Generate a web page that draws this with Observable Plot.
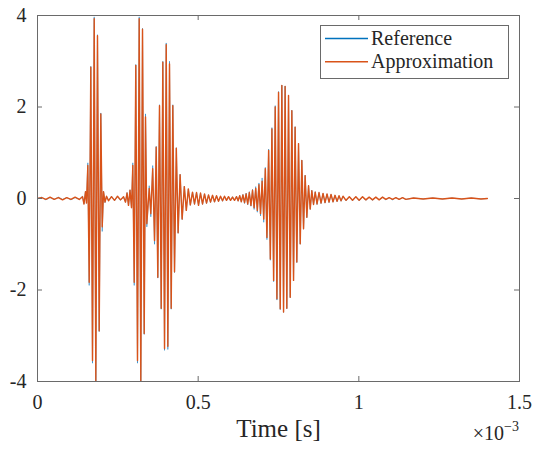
<!DOCTYPE html>
<html>
<head>
<meta charset="utf-8">
<script src="https://cdn.jsdelivr.net/npm/d3@7"></script>
<script src="https://cdn.jsdelivr.net/npm/@observablehq/plot@0.6"></script>
<style>
  html, body { margin: 0; padding: 0; background: #fff; }
</style>
</head>
<body>
<script>
// Time in units of 1e-3 s (axis shows ×10^-3)
const timeMs = [
  0, 0.013, 0.026, 0.039, 0.052, 0.065, 0.078, 0.091, 0.104, 0.117, 0.130, 0.140,
  0.1447, 0.1494, 0.1525,
  0.1566, 0.1609, 0.1659, 0.1712, 0.1765, 0.1815, 0.1867, 0.1920, 0.1970, 0.2014,
  0.2054, 0.2101, 0.2148, 0.2210, 0.2303, 0.2397, 0.2490, 0.2583, 0.2677,
  0.2739, 0.2786, 0.2832, 0.2879, 0.2926,
  0.2966, 0.3010, 0.3059, 0.3112, 0.3165, 0.3215, 0.3268, 0.3321, 0.3361, 0.3402,
  0.3477, 0.3526, 0.3585, 0.3642, 0.3694, 0.3744, 0.3797, 0.3850, 0.3900, 0.3953, 0.4006, 0.4056, 0.4108,
  0.4161, 0.4211, 0.4264, 0.4320, 0.4376, 0.4438, 0.4501, 0.4569, 0.4631, 0.4694, 0.4756, 0.4824, 0.4886,
  0.4949, 0.5011, 0.5073, 0.5135, 0.5198, 0.5260, 0.5322, 0.5384, 0.5447, 0.5509,
  0.5571, 0.5633, 0.5696, 0.5758, 0.5820, 0.5882, 0.5945, 0.6007, 0.6069, 0.6131,
  0.6194, 0.6243, 0.6293, 0.6343, 0.6393, 0.6443, 0.6492, 0.6542, 0.6592,
  0.6642, 0.6692, 0.6741, 0.6791, 0.6841, 0.6891, 0.6941, 0.6990, 0.7040,
  0.7090, 0.7140, 0.7193, 0.7246, 0.7295, 0.7348, 0.7398, 0.7451, 0.7501, 0.7554,
  0.7604, 0.7657, 0.7706, 0.7759, 0.7812, 0.7865, 0.7915, 0.7968, 0.8017, 0.8070,
  0.8123, 0.8176, 0.8226, 0.8279, 0.8329, 0.8382, 0.8435, 0.8487, 0.8537, 0.8590,
  0.8643, 0.8699, 0.8761, 0.8824, 0.8886, 0.8948, 0.9010, 0.9073, 0.9135, 0.9197, 0.9259, 0.9322, 0.9384, 0.9446, 0.9508,
  0.9602, 0.9704, 0.9804, 0.9907, 1.0010, 1.0115, 1.0218, 1.0321, 1.0427, 1.0529,
  1.0632, 1.0738, 1.0840, 1.0943, 1.1049, 1.1152, 1.1254, 1.1360, 1.1463,
  1.17, 1.20, 1.23, 1.26, 1.29, 1.32, 1.35, 1.38, 1.40
];

const reference = [
  0, 0.03, -0.03, 0.02, -0.02, 0.03, -0.02, 0.02, -0.03, 0.02, -0.02, 0.05,
  -0.12, 0.16, -0.10,
  0.78, -1.90, 2.89, -3.60, 3.97, -3.99, 3.58, -2.91, 1.87, -0.72,
  0.16, -0.09, 0.05, -0.04, 0.05, -0.05, 0.04, -0.04, 0.04,
  -0.08, 0.13, -0.16, 0.19, -0.21,
  0.78, -1.90, 2.93, -3.60, 3.97, -3.99, 3.72, -2.97, 1.85, -0.62,
  0.28, -0.40, 0.72, -1.00, 1.14, -1.74, 2.05, -2.42, 3.00, -3.32, 3.40, -3.30, 3.00,
  -2.42, 2.05, -1.62, 1.11, -0.76, 0.53, -0.46, 0.27, -0.26, 0.21, -0.15, 0.14, -0.13,
  0.14, -0.15, 0.12, -0.13, 0.10, -0.11, 0.08, -0.09, 0.07, -0.08,
  0.06, -0.07, 0.05, -0.06, 0.05, -0.05, 0.04, -0.05, 0.04, -0.05,
  0.05, -0.06, 0.07, -0.08, 0.09, -0.11, 0.12, -0.14, 0.15,
  -0.17, 0.20, -0.24, 0.26, -0.30, 0.34, -0.38, 0.45, -0.52,
  0.68, -0.90, 1.08, -1.35, 1.55, -1.82, 2.03, -2.22, 2.34, -2.43,
  2.48, -2.49, 2.46, -2.41, 2.26, -2.17, 1.93, -1.80, 1.57, -1.40,
  1.21, -1.00, 0.84, -0.67, 0.51, -0.42, 0.29, -0.24, 0.18, -0.14,
  0.15, -0.13, 0.13, -0.11, 0.11, -0.10, 0.10, -0.09, 0.09, -0.08, 0.07, -0.07, 0.06, -0.06, 0.05,
  -0.05, 0.04, -0.05, 0.04, -0.05, 0.04, -0.04, 0.03, -0.04, 0.03,
  -0.03, 0.03, -0.03, 0.02, -0.03, 0.02, -0.02, 0.02, -0.02,
  0.01, -0.01, 0.01, -0.01, 0.01, -0.01, 0.01, -0.01, 0
];

const approximation = [
  0, 0.02, -0.02, 0.03, -0.02, 0.02, -0.03, 0.02, -0.02, 0.03, -0.02, 0.04,
  -0.12, 0.15, -0.10,
  0.72, -1.83, 2.87, -3.54, 3.93, -3.98, 3.56, -2.89, 1.85, -0.62,
  0.15, -0.08, 0.05, -0.05, 0.04, -0.04, 0.05, -0.03, 0.04,
  -0.08, 0.12, -0.15, 0.18, -0.20,
  0.72, -1.83, 2.91, -3.54, 3.93, -3.98, 3.70, -2.95, 1.78, -0.55,
  0.22, -0.33, 0.65, -0.92, 1.12, -1.72, 2.03, -2.40, 2.98, -3.28, 3.36, -3.23, 2.94,
  -2.40, 2.03, -1.60, 1.10, -0.75, 0.52, -0.45, 0.26, -0.26, 0.21, -0.14, 0.14, -0.12,
  0.13, -0.15, 0.12, -0.12, 0.10, -0.10, 0.08, -0.08, 0.07, -0.07,
  0.06, -0.06, 0.05, -0.05, 0.05, -0.04, 0.04, -0.04, 0.03, -0.04,
  0.04, -0.05, 0.06, -0.07, 0.08, -0.09, 0.10, -0.12, 0.13,
  -0.15, 0.18, -0.20, 0.22, -0.26, 0.30, -0.33, 0.38, -0.45,
  0.65, -0.85, 1.05, -1.32, 1.52, -1.79, 2.00, -2.19, 2.32, -2.41,
  2.47, -2.48, 2.45, -2.40, 2.25, -2.16, 1.92, -1.79, 1.56, -1.39,
  1.20, -0.99, 0.83, -0.66, 0.50, -0.41, 0.28, -0.23, 0.17, -0.13,
  0.14, -0.12, 0.13, -0.10, 0.11, -0.09, 0.10, -0.08, 0.09, -0.07, 0.07, -0.06, 0.06, -0.05, 0.05,
  -0.04, 0.04, -0.04, 0.04, -0.04, 0.04, -0.03, 0.03, -0.03, 0.03,
  -0.03, 0.03, -0.02, 0.02, -0.02, 0.02, -0.02, 0.02, -0.02,
  0.01, -0.01, 0.01, -0.01, 0.01, -0.01, 0.01, -0.01, 0
];

const seriesNames = ["Reference", "Approximation"];
const seriesColors = ["#0072BD", "#D95319"];
const xTicks = [0, 0.5, 1, 1.5];
const yTicks = [-4, -2, 0, 2, 4];
const xLabel = "Time [s]";
const xExponent = "−3";

const rows = timeMs.map((t, i) => ({t, ref: reference[i], approx: approximation[i]}));

const W = 535, H = 449, mL = 37, mR = 16, mT = 15, mB = 68;
const innerW = W - mL - mR, innerH = H - mT - mB;
const axisColor = "#262626";
const boxColor = "#6a6a6a";
const tickLen = 5;
const font = "'Liberation Serif', serif";

const chart = Plot.plot({
  width: W, height: H,
  marginLeft: mL, marginRight: mR, marginTop: mT, marginBottom: mB,
  x: {domain: [0, 1.5]},
  y: {domain: [-4, 4]},
  style: {fontFamily: font, fontSize: "20px", color: axisColor, background: "#fff"},
  marks: [
    Plot.line(rows, {x: "t", y: "ref", stroke: seriesColors[0], strokeWidth: 0.5, curve: "linear", clip: true}),
    Plot.line(rows, {x: "t", y: "approx", stroke: seriesColors[1], strokeWidth: 1.4, curve: "linear", clip: true}),
    Plot.frame({stroke: boxColor, strokeWidth: 1}),
    Plot.tickX(xTicks, {x: d => d, stroke: boxColor, insetTop: innerH - tickLen}),
    Plot.tickX(xTicks, {x: d => d, stroke: boxColor, insetBottom: innerH - tickLen}),
    Plot.tickY(yTicks, {y: d => d, stroke: boxColor, insetRight: innerW - tickLen}),
    Plot.tickY(yTicks, {y: d => d, stroke: boxColor, insetLeft: innerW - tickLen}),
    Plot.axisX(xTicks, {tickSize: 0, tickPadding: 13, label: null, tickFormat: d => String(d), fontSize: 20, fill: axisColor}),
    Plot.axisY(yTicks, {tickSize: 0, tickPadding: 11, label: null, tickFormat: d => String(d), fontSize: 20, fill: axisColor}),
    Plot.text([xLabel], {frameAnchor: "bottom", dy: 55, fontSize: 25, fill: axisColor})
  ]
});

document.body.appendChild(chart);
const svg = d3.select(chart);

// ×10^-3 multiplier below the right end of the x axis
const mult = svg.append("text")
  .attr("x", W - mR)
  .attr("y", H - mB + 59)
  .attr("text-anchor", "end")
  .attr("font-family", font)
  .attr("font-size", 20)
  .attr("fill", axisColor);
mult.append("tspan").text("×10");
mult.append("tspan").attr("dy", -9).attr("font-size", 14).text(xExponent);

// Legend box (top right inside axes)
const lg = svg.append("g")
  .attr("font-family", font).attr("font-size", 20)
  .attr("fill", axisColor).attr("text-anchor", "start");
lg.append("rect").attr("x", 320.5).attr("y", 25.5).attr("width", 188).attr("height", 53)
  .attr("fill", "#fff").attr("stroke", boxColor).attr("stroke-width", 1);
seriesNames.forEach((name, i) => {
  const yy = 38.5 + i * 23.3;
  lg.append("line").attr("x1", 325).attr("x2", 368).attr("y1", yy).attr("y2", yy)
    .attr("stroke", seriesColors[i]).attr("stroke-width", 1.5);
  lg.append("text").attr("x", 371).attr("y", yy + 6.5).attr("text-anchor", "start").text(name);
});
</script>
</body>
</html>
